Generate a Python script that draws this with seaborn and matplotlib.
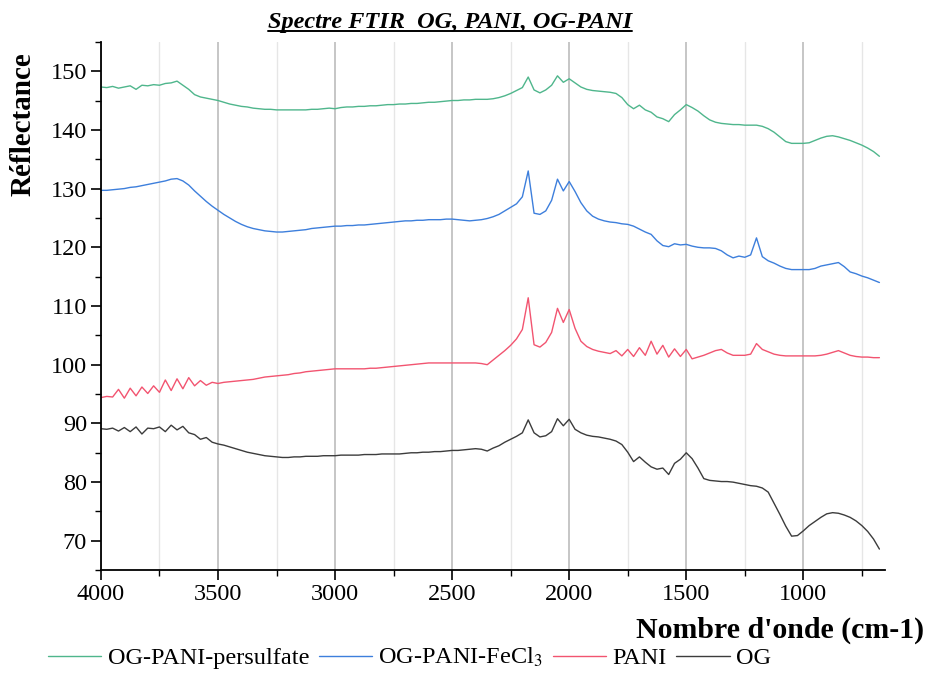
import numpy as np
import pandas as pd
import matplotlib
matplotlib.use("Agg")
import matplotlib.pyplot as plt
from matplotlib.ticker import MultipleLocator
from matplotlib.lines import Line2D
import seaborn as sns

# Wavenumber axis (cm-1), sampled every 25 cm-1 from 4000 down to 675
wavenumber = np.arange(4000, 674, -25)

series_names = ["OG-PANI-persulfate", "OG-PANI-FeCl$_3$", "PANI", "OG"]
series_colors = ["#4fb68c", "#3d7fdc", "#f25470", "#3c3c3c"]

og_pani_persulfate = [
    147.3, 147.2, 147.4, 147.1, 147.3, 147.5, 146.9, 147.6, 147.5, 147.7,
    147.6, 147.9, 148.0, 148.3, 147.6, 146.9, 146.0, 145.6, 145.4, 145.2,
    145.0, 144.7, 144.4, 144.2, 144.0, 143.9, 143.7, 143.6, 143.5, 143.5,
    143.4, 143.4, 143.4, 143.4, 143.4, 143.4, 143.5, 143.5, 143.6, 143.7,
    143.6, 143.8, 143.9, 143.9, 144.0, 144.0, 144.1, 144.1, 144.2, 144.3,
    144.3, 144.4, 144.4, 144.5, 144.5, 144.6, 144.7, 144.7, 144.8, 144.9,
    145.0, 145.0, 145.1, 145.1, 145.2, 145.2, 145.2, 145.3, 145.5, 145.8,
    146.2, 146.7, 147.2, 149.0, 146.8, 146.3, 146.8, 147.6, 149.2, 148.1,
    148.7, 148.0, 147.3, 146.9, 146.7, 146.6, 146.5, 146.4, 146.2, 145.5,
    144.3, 143.6, 144.2, 143.4, 143.0, 142.2, 141.9, 141.4, 142.6, 143.4,
    144.3, 143.8, 143.2, 142.4, 141.7, 141.3, 141.1, 141.0, 140.9, 140.9,
    140.8, 140.8, 140.8, 140.6, 140.2, 139.6, 138.8, 138.0, 137.7, 137.7,
    137.7, 137.8, 138.2, 138.6, 138.9, 139.0, 138.8, 138.5, 138.2, 137.8,
    137.4, 136.9, 136.3, 135.5,
]

og_pani_fecl3 = [
    129.7, 129.7, 129.8, 129.9, 130.0, 130.2, 130.3, 130.5, 130.7, 130.9,
    131.1, 131.3, 131.6, 131.7, 131.3, 130.6, 129.6, 128.7, 127.8, 127.0,
    126.3, 125.6, 125.0, 124.4, 123.9, 123.5, 123.2, 123.0, 122.8, 122.7,
    122.6, 122.6, 122.7, 122.8, 122.9, 123.0, 123.2, 123.3, 123.4, 123.5,
    123.6, 123.6, 123.7, 123.7, 123.8, 123.8, 123.9, 124.0, 124.1, 124.2,
    124.3, 124.4, 124.5, 124.5, 124.6, 124.6, 124.7, 124.7, 124.7, 124.8,
    124.8, 124.7, 124.6, 124.5, 124.6, 124.7, 124.9, 125.2, 125.6, 126.2,
    126.8, 127.4, 128.6, 133.0, 125.8, 125.6, 126.2, 128.0, 131.6, 129.6,
    131.2, 129.5, 127.6, 126.2, 125.3, 124.8, 124.5, 124.3, 124.2, 124.0,
    123.9, 123.6, 123.1, 122.6, 122.2, 121.1, 120.3, 120.1, 120.6, 120.4,
    120.5, 120.2, 120.0, 119.9, 119.9, 119.8, 119.4, 118.7, 118.2, 118.5,
    118.3, 118.7, 121.6, 118.4, 117.7, 117.3, 116.8, 116.4, 116.2, 116.2,
    116.2, 116.2, 116.4, 116.8, 117.0, 117.2, 117.4, 116.7, 115.8, 115.5,
    115.1, 114.8, 114.4, 114.0,
]

pani = [
    94.4, 94.6, 94.5, 95.8, 94.3, 96.0, 94.7, 96.2, 95.1, 96.4,
    95.3, 97.4, 95.6, 97.6, 95.9, 97.8, 96.4, 97.3, 96.5, 97.0,
    96.8, 97.0, 97.1, 97.2, 97.3, 97.4, 97.5, 97.7, 97.9, 98.0,
    98.1, 98.2, 98.3, 98.5, 98.6, 98.8, 98.9, 99.0, 99.1, 99.2,
    99.3, 99.3, 99.3, 99.3, 99.3, 99.3, 99.4, 99.4, 99.5, 99.6,
    99.7, 99.8, 99.9, 100.0, 100.1, 100.2, 100.3, 100.3, 100.3, 100.3,
    100.3, 100.3, 100.3, 100.3, 100.3, 100.2, 100.0, 100.8, 101.6, 102.4,
    103.3, 104.4, 106.0, 111.4, 103.4, 103.0, 103.8, 105.5, 109.6, 107.2,
    109.4, 106.2, 104.0, 103.1, 102.6, 102.3, 102.1, 101.9, 102.4, 101.5,
    102.6, 101.4, 102.9, 101.6, 104.0, 101.8, 103.3, 101.3, 102.7, 101.4,
    102.6, 101.0, 101.3, 101.6, 102.0, 102.4, 102.6, 102.0, 101.6, 101.6,
    101.6, 101.8, 103.6, 102.6, 102.2, 101.8, 101.6, 101.5, 101.5, 101.5,
    101.5, 101.5, 101.5, 101.6, 101.8, 102.1, 102.4, 102.0, 101.6, 101.4,
    101.3, 101.3, 101.2, 101.2,
]

og = [
    89.1, 89.0, 89.2, 88.7, 89.3, 88.6, 89.4, 88.2, 89.2, 89.1,
    89.4, 88.6, 89.7, 88.9, 89.5, 88.4, 88.1, 87.3, 87.6, 86.8,
    86.5, 86.3, 86.0, 85.7, 85.4, 85.1, 84.9, 84.7, 84.5, 84.4,
    84.3, 84.2, 84.2, 84.3, 84.3, 84.4, 84.4, 84.4, 84.5, 84.5,
    84.5, 84.6, 84.6, 84.6, 84.6, 84.7, 84.7, 84.7, 84.8, 84.8,
    84.8, 84.8, 84.9, 85.0, 85.0, 85.1, 85.1, 85.2, 85.2, 85.3,
    85.4, 85.4, 85.5, 85.6, 85.7, 85.6, 85.3, 85.8, 86.2, 86.8,
    87.3, 87.8, 88.4, 90.6, 88.4, 87.7, 87.9, 88.6, 90.8, 89.6,
    90.7, 89.0, 88.4, 88.0, 87.8, 87.7, 87.5, 87.3, 87.0, 86.4,
    85.1, 83.5, 84.3, 83.4, 82.6, 82.2, 82.4, 81.3, 83.2, 83.9,
    85.0, 84.0, 82.4, 80.6, 80.3, 80.2, 80.1, 80.1, 80.0, 79.8,
    79.6, 79.4, 79.3, 79.0, 78.3, 76.4, 74.5, 72.5, 70.8, 70.9,
    71.7, 72.6, 73.3, 74.0, 74.6, 74.8, 74.7, 74.4, 74.0, 73.4,
    72.6, 71.6, 70.3, 68.6,
]

frames = []
for name, values in zip(series_names, [og_pani_persulfate, og_pani_fecl3, pani, og]):
    frames.append(pd.DataFrame({"wavenumber": wavenumber, "reflectance": values, "sample": name}))
df = pd.concat(frames, ignore_index=True)

sns.set_style("ticks")
plt.rcParams["font.family"] = ["Liberation Serif", "DejaVu Serif"]
plt.rcParams["mathtext.fontset"] = "stix"
plt.rcParams["text.color"] = "black"

fig = plt.figure(figsize=(9.26, 6.74), dpi=100)
ax = fig.add_axes([0.109, 0.154, 0.847, 0.784])

sns.lineplot(data=df, x="wavenumber", y="reflectance", hue="sample",
             hue_order=series_names, palette=series_colors,
             linewidth=1.0, sort=False, estimator=None, legend=False, ax=ax)

ax.set_xlim(4000, 650)
ax.set_ylim(65, 155)
ax.xaxis.set_major_locator(MultipleLocator(500))
ax.xaxis.set_minor_locator(MultipleLocator(250))
ax.yaxis.set_major_locator(MultipleLocator(10))
ax.yaxis.set_minor_locator(MultipleLocator(5))
ax.set_xlabel("")
ax.set_ylabel("")

ax.grid(axis="x", which="major", color="#c2c2c2", linewidth=1.3)
ax.grid(axis="x", which="minor", color="#e6e6e6", linewidth=1.0)
ax.grid(axis="y", visible=False)
ax.set_axisbelow(True)

for side in ("top", "right"):
    ax.spines[side].set_visible(False)
for side in ("left", "bottom"):
    ax.spines[side].set_linewidth(1.3)
    ax.spines[side].set_color("black")

ax.tick_params(axis="both", which="major", direction="out", length=7, width=1.2,
               labelsize=17.5, colors="black", pad=3)
ax.tick_params(axis="both", which="minor", direction="out", length=4, width=1.0,
               colors="black")

title = fig.text(0.486, 0.967, "Spectre FTIR  OG, PANI, OG-PANI", ha="center", va="center",
                 fontsize=17.5, fontweight="bold", fontstyle="italic", color="black")
fig.text(0.025, 0.816, "Réflectance", rotation=90, ha="center", va="center",
         fontsize=21, fontweight="bold", color="black")
fig.text(0.998, 0.065, "Nombre d'onde (cm-1)", ha="right", va="center",
         fontsize=21.5, fontweight="bold", color="black")

handles = [Line2D([], [], color=c, linewidth=1.0) for c in series_colors]
leg = fig.legend(handles, series_names, loc="center", bbox_to_anchor=(0.442, 0.024),
                 ncol=4, frameon=False, fontsize=17.5, handlelength=2.2,
                 handletextpad=0.25, columnspacing=0.4, borderpad=0.0)
for t in leg.get_texts():
    t.set_color("black")

# underline the title
fig.canvas.draw()
bb = title.get_window_extent(renderer=fig.canvas.get_renderer())
inv = fig.transFigure.inverted()
(x0, y0), (x1, y1) = inv.transform([[bb.x0, bb.y0], [bb.x1, bb.y1]])
fig.add_artist(Line2D([x0, x1], [y0 + 0.003, y0 + 0.003], transform=fig.transFigure,
                      color="black", linewidth=1.4))

fig.savefig("out.png", dpi=100)
